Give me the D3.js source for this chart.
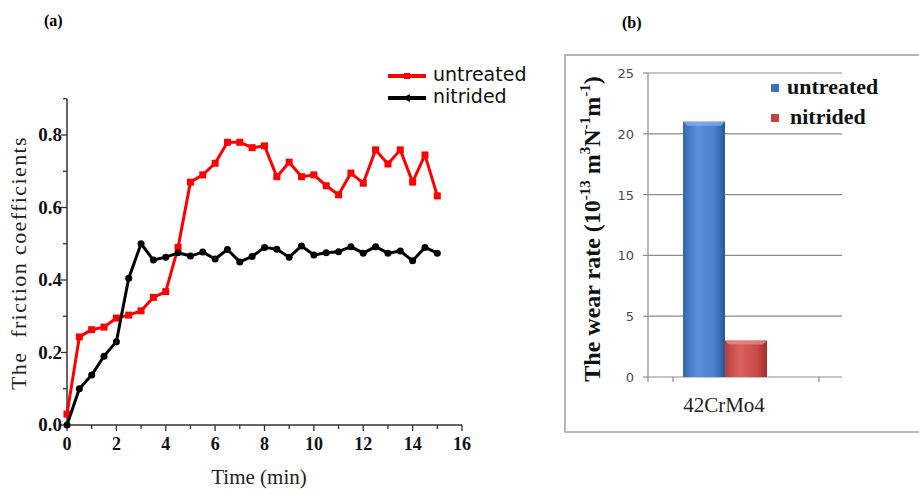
<!DOCTYPE html>
<html><head><meta charset="utf-8">
<script src="https://cdn.jsdelivr.net/npm/d3@7/dist/d3.min.js"></script>
<style>body{margin:0;background:#fff;}svg{display:block;}</style>
</head><body>
<svg id="c" width="919" height="489"></svg>
<script>
// ---- data: panel (a) friction coefficient vs time ----
const timeMin = [0,0.5,1,1.5,2,2.5,3,3.5,4,4.5,5,5.5,6,6.5,7,7.5,8,8.5,9,9.5,10,10.5,11,11.5,12,12.5,13,13.5,14,14.5,15];
const untreatedFriction = [0.03,0.243,0.263,0.27,0.295,0.303,0.315,0.352,0.368,0.49,0.67,0.69,0.722,0.78,0.78,0.765,0.77,0.685,0.725,0.685,0.69,0.66,0.635,0.695,0.667,0.759,0.72,0.759,0.67,0.745,0.632];
const nitridedFriction = [0,0.1,0.138,0.19,0.23,0.405,0.50,0.455,0.463,0.475,0.466,0.477,0.458,0.484,0.45,0.465,0.49,0.485,0.463,0.494,0.469,0.475,0.478,0.492,0.474,0.492,0.474,0.48,0.453,0.49,0.474];
const xTicksA = [0,2,4,6,8,10,12,14,16];
const yTicksA = [0,0.2,0.4,0.6,0.8];
// ---- data: panel (b) wear rate ----
const materials = ["42CrMo4"];
const seriesNames = ["untreated","nitrided"];
const wearRate = [21, 3];
const yTicksB = [0,5,10,15,20,25];

const svg = d3.select("#c");
const serif = "Liberation Serif";

// ================= Panel (a) =================
const xA = d3.scaleLinear().domain([0,16]).range([67,462]);
const yA = d3.scaleLinear().domain([0,0.9]).range([425,98.75]);
const gA = svg.append("g");

const axisCol = "#333";
gA.append("line").attr("x1",xA(0)).attr("x2",xA(0)).attr("y1",yA(0)).attr("y2",yA(0.9)).attr("stroke",axisCol).attr("stroke-width",1.5);
gA.append("line").attr("x1",xA(0)).attr("x2",xA(16)).attr("y1",yA(0)).attr("y2",yA(0)).attr("stroke",axisCol).attr("stroke-width",1.5);
d3.range(0,10).forEach(i=>{
  const v=i/10;
  gA.append("line").attr("x1",xA(0)-(i%2===0?6:4)).attr("x2",xA(0)).attr("y1",yA(v)).attr("y2",yA(v)).attr("stroke",axisCol).attr("stroke-width",1.3);
});
yTicksA.forEach(v=>{
  gA.append("text").attr("x",xA(0)-5).attr("y",yA(v)+6).attr("text-anchor","end")
    .attr("font-family",serif).attr("font-size",19).attr("font-weight","bold").attr("fill","#111").text(v.toFixed(1));
});
d3.range(0,17).forEach(i=>{
  gA.append("line").attr("x1",xA(i)).attr("x2",xA(i)).attr("y1",yA(0)).attr("y2",yA(0)+(i%2===0?6:4)).attr("stroke",axisCol).attr("stroke-width",1.3);
});
xTicksA.forEach(v=>{
  gA.append("text").attr("x",xA(v)).attr("y",yA(0)+25).attr("text-anchor","middle")
    .attr("font-family",serif).attr("font-size",18).attr("font-weight","bold").attr("fill","#111").text(v);
});
gA.append("text").attr("x",259).attr("y",484).attr("text-anchor","middle")
  .attr("font-family",serif).attr("font-size",21).attr("fill","#222").text("Time (min)");
gA.append("text").attr("transform","translate(26,263) rotate(-90)").attr("text-anchor","middle")
  .attr("font-family",serif).attr("font-size",22).attr("letter-spacing",1.4).attr("fill","#222").attr("xml:space","preserve").text("The  friction coefficients");

const line = d3.line().x((d,i)=>xA(timeMin[i])).y(d=>yA(d));
gA.append("path").datum(untreatedFriction).attr("d",line).attr("fill","none").attr("stroke","#ff0000").attr("stroke-width",3).attr("stroke-linejoin","round");
gA.selectAll(".mr").data(untreatedFriction).enter().append("rect")
  .attr("x",(d,i)=>xA(timeMin[i])-3.5).attr("y",d=>yA(d)-3.5).attr("width",7).attr("height",7).attr("fill","#ff0000");
gA.append("path").datum(nitridedFriction).attr("d",line).attr("fill","none").attr("stroke","#000").attr("stroke-width",3).attr("stroke-linejoin","round");
gA.selectAll(".mb").data(nitridedFriction).enter().append("circle")
  .attr("cx",(d,i)=>xA(timeMin[i])).attr("cy",d=>yA(d)).attr("r",3.5).attr("fill","#000");

// legend (a)
const legA = [{name:"untreated",col:"#ff0000",y:76},{name:"nitrided",col:"#000",y:98}];
legA.forEach(l=>{
  gA.append("line").attr("x1",388).attr("x2",426).attr("y1",l.y).attr("y2",l.y).attr("stroke",l.col).attr("stroke-width",4);
  if(l.col==="#ff0000") gA.append("rect").attr("x",404).attr("y",l.y-3).attr("width",6).attr("height",6).attr("fill",l.col);
  else gA.append("path").attr("d",`M402,${l.y} L410,${l.y-4} L410,${l.y+4} Z`).attr("fill",l.col);
  gA.append("text").attr("x",433).attr("y",l.y+5).attr("font-family","DejaVu Sans").attr("font-size",19).attr("fill","#111").text(l.name);
});
svg.append("text").attr("x",44).attr("y",26).attr("font-family",serif).attr("font-size",16).attr("font-weight","bold").text("(a)");
svg.append("text").attr("x",622).attr("y",28).attr("font-family",serif).attr("font-size",16).attr("font-weight","bold").text("(b)");

// ================= Panel (b) =================
const gB = svg.append("g");
gB.append("path").attr("d","M919,55 L565,55 L565,432 L919,432").attr("fill","none").attr("stroke","#a0a0a0").attr("stroke-width",1.5);

const yB = d3.scaleLinear().domain([0,25]).range([377,73]);
const plotL = 648, plotR = 842;
const x0 = d3.scaleBand().domain(materials).range([673,819]);
const x1 = d3.scaleBand().domain([0,1,2]).range([10, x0.bandwidth()-10]);

yTicksB.forEach(v=>{
  if(v>0) gB.append("line").attr("x1",plotL).attr("x2",plotR).attr("y1",yB(v)).attr("y2",yB(v)).attr("stroke","#8c8c8c").attr("stroke-width",1.2);
  gB.append("line").attr("x1",plotL-5).attr("x2",plotL).attr("y1",yB(v)).attr("y2",yB(v)).attr("stroke","#8c8c8c").attr("stroke-width",1.2);
  gB.append("text").attr("x",634).attr("y",yB(v)+5).attr("text-anchor","end")
    .attr("font-family","DejaVu Sans").attr("font-size",13).attr("fill","#4a4a4a").text(v);
});
gB.append("line").attr("x1",plotL).attr("x2",plotL).attr("y1",yB(0)).attr("y2",yB(25)).attr("stroke","#8c8c8c").attr("stroke-width",1.2);
gB.append("line").attr("x1",plotL).attr("x2",plotR).attr("y1",yB(0)).attr("y2",yB(0)).attr("stroke","#8c8c8c").attr("stroke-width",1.2);
[x0(materials[0]), x0(materials[0])+x0.bandwidth()].forEach(x=>{
  gB.append("line").attr("x1",x).attr("x2",x).attr("y1",yB(0)).attr("y2",yB(0)+5).attr("stroke","#8c8c8c").attr("stroke-width",1.2);
});
gB.append("line").attr("x1",plotL).attr("x2",plotL).attr("y1",yB(0)).attr("y2",yB(0)+5).attr("stroke","#8c8c8c").attr("stroke-width",1.2);

const defs = svg.append("defs");
const grads = [
  {id:"gBlue", stops:["#3467b0","#5a90da","#4a80cc","#2b5696"]},
  {id:"gRed", stops:["#b8403c","#d9625d","#c94a46","#9e2f2c"]}
];
grads.forEach(g=>{
  const lg = defs.append("linearGradient").attr("id",g.id).attr("x1","0").attr("x2","1").attr("y1","0").attr("y2","0");
  [0,0.35,0.75,1].forEach((o,i)=>lg.append("stop").attr("offset",o).attr("stop-color",g.stops[i]));
});
const capCols = ["#7fb0ec","#e88a85"];
seriesNames.forEach((s,i)=>{
  const bx = x0(materials[0]) + x1(i), bw = x1.bandwidth(), top = yB(wearRate[i]);
  gB.append("rect").attr("x",bx).attr("y",top).attr("width",bw).attr("height",yB(0)-top).attr("fill",`url(#${grads[i].id})`);
  gB.append("path").attr("d",`M${bx},${top} L${bx+bw},${top} L${bx+bw-4},${top+4} L${bx+4},${top+4} Z`).attr("fill",capCols[i]).attr("opacity",0.8);
});
gB.append("text").attr("x",x0(materials[0])+x0.bandwidth()/2-22).attr("y",412).attr("text-anchor","middle")
  .attr("font-family",serif).attr("font-size",21).attr("fill","#222").text(materials[0]);

const yl = gB.append("text").attr("transform","translate(600,229) rotate(-90)").attr("text-anchor","middle")
  .attr("font-family",serif).attr("font-size",24).attr("font-weight","bold").attr("fill","#111");
const parts = [["The wear rate (10",0],["-13",1],[" m",0],["3",1],["N",0],["-1",1],["m",0],["-1",1],[")",0]];
parts.forEach((p,i)=>{
  const t = yl.append("tspan").text(p[0]);
  const prev = i>0 ? parts[i-1][1] : 0;
  if(p[1]) t.attr("font-size",15).attr("dy", prev? 0 : -10);
  else if(prev) t.attr("dy",10);
});

const legB = [{name:"untreated",col:"#3a72c0",y:88},{name:"nitrided",col:"#c8433f",y:118}];
legB.forEach((l,i)=>{
  gB.append("rect").attr("x",771).attr("y",l.y-4).attr("width",8).attr("height",8).attr("fill",l.col);
  gB.append("text").attr("x",i===0?787:790).attr("y",l.y+6).attr("font-family",serif).attr("font-size",22).attr("font-weight","bold").attr("fill","#111").text(l.name);
});
</script>
</body></html>
